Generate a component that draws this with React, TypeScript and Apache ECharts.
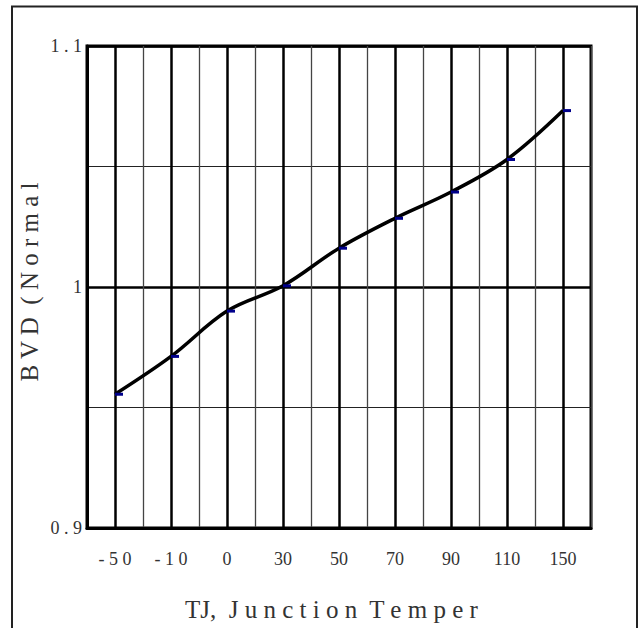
import React, { useEffect, useRef } from "react";
import * as echarts from "echarts";

const categories = ["-50", "-10", "0", "30", "50", "70", "90", "110", "150"];
const bvdValues = [0.9555, 0.9712, 0.99, 1.0005, 1.0161, 1.0285, 1.0394, 1.0529, 1.0732];
const yMin = 0.9;
const yMax = 1.1;
const xTitle = "TJ,  J u n c t i o n  T e m p e r";
const yTitle = "B V D  ( N o r m a l";

const FONT = "Liberation Serif";

export default function App() {
  const ref = useRef<HTMLDivElement>(null);
  useEffect(() => {
    if (!ref.current) return;
    const chart = echarts.init(ref.current, undefined, { renderer: "svg" });
    chart.setOption({
      animation: false,
      backgroundColor: "#ffffff",
      textStyle: { fontFamily: FONT },
      grid: {
        left: 87,
        right: 50,
        top: 46,
        bottom: 100,
        show: true,
        borderColor: "#000",
        borderWidth: 3,
        backgroundColor: "transparent",
      },
      xAxis: {
        type: "category",
        data: categories,
        boundaryGap: true,
        axisLine: { show: true, lineStyle: { color: "#000", width: 3 } },
        axisTick: {
          show: true,
          alignWithLabel: true,
          inside: true,
          interval: 0,
          length: 482,
          lineStyle: { color: "#000", width: 2.5 },
        },
        splitLine: {
          show: true,
          interval: 0,
          lineStyle: { color: "#444", width: 1.3 },
        },
        axisLabel: {
          interval: 0,
          margin: 22,
          fontFamily: FONT,
          fontSize: 18,
          color: "#333",
          formatter: (v: string) => (v.startsWith("-") ? v.split("").join(" ") : v),
        },
      },
      yAxis: {
        type: "value",
        min: yMin,
        max: yMax,
        interval: 0.1,
        axisLine: { show: true, lineStyle: { color: "#000", width: 3 } },
        axisTick: { show: false },
        minorTick: { show: false, splitNumber: 2 },
        splitLine: { show: true, lineStyle: { color: "#000", width: 2.5 } },
        minorSplitLine: { show: true, lineStyle: { color: "#222", width: 1.2 } },
        axisLabel: {
          margin: 5,
          fontFamily: FONT,
          fontSize: 18,
          color: "#333",
          formatter: (v: number) => String(Math.round(v * 100) / 100).split("").join(" "),
        },
      },
      graphic: [
        {
          type: "rect",
          silent: true,
          shape: { x: 12, y: 6.5, width: 625, height: 700 },
          style: { fill: "none", stroke: "#222", lineWidth: 2 },
        },
        {
          type: "text",
          silent: true,
          x: 185,
          y: 597,
          style: {
            text: xTitle,
            fontFamily: FONT,
            fontSize: 25,
            fill: "#333",
            align: "left",
            verticalAlign: "top",
          },
        },
        {
          type: "text",
          silent: true,
          x: 29,
          y: 282,
          rotation: Math.PI / 2,
          style: {
            text: yTitle,
            fontFamily: FONT,
            fontSize: 25,
            fill: "#333",
            align: "center",
            verticalAlign: "middle",
          },
        },
      ],
      series: [
        {
          type: "line",
          data: bvdValues,
          smooth: 0.35,
          lineStyle: { color: "#000", width: 3.5 },
          symbol: "rect",
          symbolSize: [8, 3],
          symbolOffset: [4, 0],
          itemStyle: { color: "#00008b" },
          z: 5,
        },
      ],
    });
    return () => chart.dispose();
  }, []);
  return (
    <div
      ref={ref}
      style={{ position: "absolute", left: 0, top: 0, width: 641, height: 628 }}
    />
  );
}
